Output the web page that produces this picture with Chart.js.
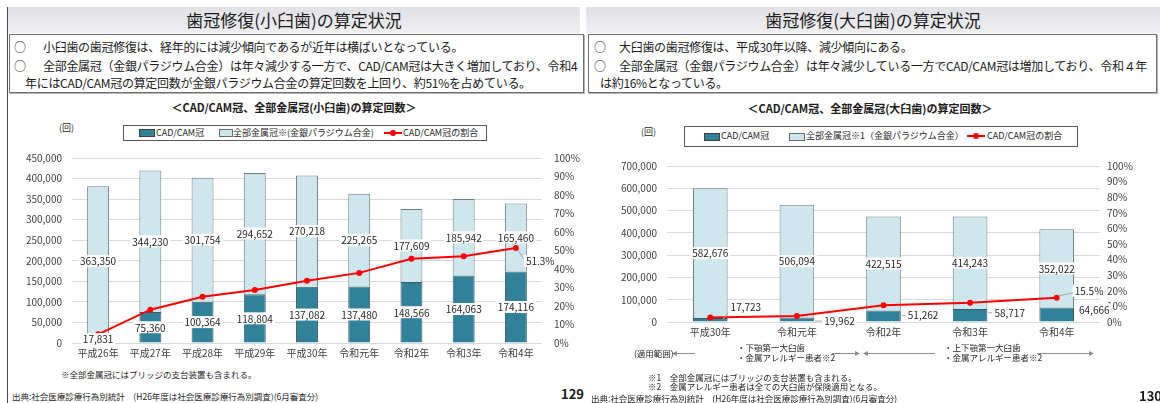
<!DOCTYPE html>
<html lang="ja">
<head>
<meta charset="UTF-8">
<title>歯冠修復の算定状況</title>
<script src="https://cdn.jsdelivr.net/npm/chart.js"></script>
<style>
  html, body { margin: 0; padding: 0; background: #fff; }
  body { width: 1160px; height: 403px; position: relative; overflow: hidden;
         font-family: "Noto Sans CJK JP", "Noto Sans", sans-serif; color: #1a1a1a; }
  .t { position: absolute; white-space: nowrap; }
  .band { position: absolute; top: 7px; height: 26px; line-height: 26px; text-align: center;
          font-size: 17px; background: linear-gradient(#e2e2e6, #efeff2); color: #1a1a1a; }
  .box { position: absolute; top: 34px; height: 57px; border: 1px solid #6f6f6f;
         box-shadow: 1px 1px 0 #b5b5b5; background: #fff; }
  .line { font-size: 12px; line-height: 14px; letter-spacing: -0.3px; }
  .ctitle { font-size: 11px; font-weight: bold; line-height: 14px; transform: translateX(-50%); }
  .legend { position: absolute; border: 1px solid #595959; background: #fff; }
  .lg { font-size: 9px; line-height: 12px; color: #262626; }
  .sw { position: absolute; height: 6px; border: 1px solid #404040; }
  .note { font-size: 8.5px; line-height: 11px; color: #262626; }
  .pg { font-size: 13px; font-weight: bold; line-height: 14px; color: #1a1a1a; }
  canvas { position: absolute; }
</style>
</head>
<body>

<!-- left slide -->
<div class="t" style="left:7px;top:7px;width:1px;height:396px;background:#4a4a4a;"></div>
<div class="band" style="left:8px;width:572px;">歯冠修復(小臼歯)の算定状況</div>
<div class="box" style="left:9px;width:573px;"></div>
<div class="t line" style="left:14px;top:40px;">○</div>
<div class="t line" style="left:43px;top:40px;">小臼歯の歯冠修復は、経年的には減少傾向であるが近年は横ばいとなっている。</div>
<div class="t line" style="left:14px;top:59px;">○</div>
<div class="t line" style="left:43px;top:59px;">全部金属冠（金銀パラジウム合金）は年々減少する一方で、CAD/CAM冠は大きく増加しており、令和4</div>
<div class="t line" style="left:25px;top:76px;">年にはCAD/CAM冠の算定回数が金銀パラジウム合金の算定回数を上回り、約51%を占めている。</div>
<div class="t ctitle" style="left:294px;top:100px;">＜CAD/CAM冠、全部金属冠(小臼歯)の算定回数＞</div>
<div class="t note" style="left:59px;top:122px;font-size:9px;">(回)</div>
<div class="legend" style="left:123px;top:125px;width:362px;height:14px;">
  <div class="sw" style="left:15px;top:3px;width:14px;background:#2f8299;"></div>
  <div class="t lg" style="left:32px;top:1px;">CAD/CAM冠</div>
  <div class="sw" style="left:95px;top:3px;width:12px;background:#cde6ee;border-color:#5f6f72;"></div>
  <div class="t lg" style="left:109px;top:1px;">全部金属冠※(金銀パラジウム合金)</div>
  <div class="t" style="left:260px;top:6px;width:18px;height:2px;background:#ff0000;"></div>
  <div class="t" style="left:266px;top:4px;width:6px;height:6px;border-radius:3px;background:#ff0000;"></div>
  <div class="t lg" style="left:279px;top:1px;">CAD/CAM冠の割合</div>
</div>
<canvas id="leftChart" width="580" height="225" style="left:0;top:140px;"></canvas>
<div class="t note" style="left:61px;top:369px;">※全部金属冠にはブリッジの支台装置も含まれる。</div>
<div class="t note" style="left:12px;top:391px;">出典:社会医療診療行為別統計　(H26年度は社会医療診療行為別調査)(6月審査分)</div>
<div class="t pg" style="left:561px;top:387px;">129</div>

<!-- right slide -->
<div class="band" style="left:586px;width:574px;">歯冠修復(大臼歯)の算定状況</div>
<div class="box" style="left:588px;width:567px;"></div>
<div class="t line" style="left:594px;top:40px;">○</div>
<div class="t line" style="left:619px;top:40px;">大臼歯の歯冠修復は、平成30年以降、減少傾向にある。</div>
<div class="t line" style="left:594px;top:59px;">○</div>
<div class="t line" style="left:619px;top:59px;">全部金属冠（金銀パラジウム合金）は年々減少している一方でCAD/CAM冠は増加しており、令和４年</div>
<div class="t line" style="left:600px;top:76px;">は約16%となっている。</div>
<div class="t ctitle" style="left:870px;top:101px;">＜CAD/CAM冠、全部金属冠(大臼歯)の算定回数＞</div>
<div class="t note" style="left:641px;top:126px;font-size:9px;">(回)</div>
<div class="legend" style="left:684px;top:126px;width:392px;height:19px;">
  <div class="sw" style="left:19px;top:6px;width:14px;background:#2f8299;"></div>
  <div class="t lg" style="left:36px;top:3px;">CAD/CAM冠</div>
  <div class="sw" style="left:104px;top:6px;width:14px;background:#cde6ee;border-color:#5f6f72;"></div>
  <div class="t lg" style="left:121px;top:3px;">全部金属冠※1（金銀パラジウム合金）</div>
  <div class="t" style="left:282px;top:8px;width:18px;height:2px;background:#ff0000;"></div>
  <div class="t" style="left:288px;top:6px;width:6px;height:6px;border-radius:3px;background:#ff0000;"></div>
  <div class="t lg" style="left:302px;top:3px;">CAD/CAM冠の割合</div>
</div>
<canvas id="rightChart" width="575" height="194" style="left:585px;top:150px;"></canvas>
<svg class="t" style="left:0;top:0;" width="1160" height="403">
  <g stroke="#8c8c8c" stroke-width="1" fill="#8c8c8c">
    <line x1="676" y1="353.5" x2="695" y2="353.5"/><path d="M672 353.5 l5 -2.5 v5 z" stroke="none"/>
    <line x1="832" y1="353.5" x2="856" y2="353.5"/><path d="M860 353.5 l-5 -2.5 v5 z" stroke="none"/>
    <line x1="867" y1="353.5" x2="935" y2="353.5"/><path d="M863 353.5 l5 -2.5 v5 z" stroke="none"/>
    <line x1="1037" y1="353.5" x2="1090" y2="353.5"/><path d="M1094 353.5 l-5 -2.5 v5 z" stroke="none"/>
  </g>
</svg>
<div class="t note" style="left:634px;top:348px;">(適用範囲)</div>
<div class="t note" style="left:737px;top:342px;">・下顎第一大臼歯</div>
<div class="t note" style="left:737px;top:352px;">・金属アレルギー患者※2</div>
<div class="t note" style="left:944px;top:342px;">・上下顎第一大臼歯</div>
<div class="t note" style="left:944px;top:352px;">・金属アレルギー患者※2</div>
<div class="t note" style="left:648px;top:372px;">※1　全部金属冠にはブリッジの支台装置も含まれる。</div>
<div class="t note" style="left:648px;top:381px;">※2　金属アレルギー患者は全ての大臼歯が保険適用となる。</div>
<div class="t note" style="left:591px;top:393px;">出典:社会医療診療行為別統計　(H26年度は社会医療診療行為別調査)(6月審査分)</div>
<div class="t pg" style="left:1139px;top:389px;">130</div>

<script>
  // 小臼歯
  const leftYears = ['平成26年', '平成27年', '平成28年', '平成29年', '平成30年', '令和元年', '令和2年', '令和3年', '令和4年'];
  const leftCadCam = [17831, 75360, 100364, 118804, 137082, 137480, 148566, 164063, 174116];
  const leftMetal = [363350, 344230, 301754, 294652, 270218, 225265, 177609, 185942, 165460];
  const leftRatio = [4.7, 18.0, 25.0, 28.7, 33.7, 37.9, 45.5, 46.9, 51.3];
  const leftCountMax = 450000, leftCountStep = 50000;

  // 大臼歯
  const rightYears = ['平成30年', '令和元年', '令和2年', '令和3年', '令和4年'];
  const rightCadCam = [17723, 19962, 51262, 58717, 64666];
  const rightMetal = [582676, 506094, 422515, 414243, 352022];
  const rightRatio = [2.9, 3.8, 10.8, 12.4, 15.5];
  const rightCountMax = 700000, rightCountStep = 100000;

  const ratioMax = 100, ratioStep = 10;

  Chart.defaults.font.family = '"Noto Sans CJK JP", "Noto Sans", sans-serif';
  Chart.defaults.font.size = 10;
  Chart.defaults.color = '#404040';

  function dotted(ctx) {
    const c = document.createElement('canvas');
    c.width = 4; c.height = 4;
    const g = c.getContext('2d');
    g.fillStyle = '#d1e8ef'; g.fillRect(0, 0, 4, 4);
    g.fillStyle = '#bcdce6'; g.fillRect(0, 0, 1, 1); g.fillRect(2, 2, 1, 1);
    return ctx.createPattern(c, 'repeat');
  }

  function labelBox(ctx, text, x, y, align) {
    const w = ctx.measureText(text).width;
    const left = align === 'left' ? x : x - w / 2;
    ctx.fillStyle = '#fff';
    ctx.fillRect(left - 2, y - 6, w + 4, 12);
    ctx.fillStyle = '#262626';
    ctx.textAlign = 'left';
    ctx.fillText(text, left, y + 0.5);
  }

  function leader(ctx, x1, y1, x2, y2) {
    ctx.strokeStyle = '#a6a6a6';
    ctx.lineWidth = 1;
    ctx.beginPath(); ctx.moveTo(x1, y1); ctx.lineTo(x2, y2); ctx.stroke();
  }

  // value labels in the middle of each stack segment, plus the last ratio
  const segmentLabels = {
    id: 'segmentLabels',
    afterDatasetsDraw(chart, args, opts) {
      const ctx = chart.ctx;
      ctx.save();
      ctx.font = '10px "Noto Sans CJK JP", "Noto Sans", sans-serif';
      ctx.textBaseline = 'middle';
      chart.data.datasets.forEach((ds, di) => {
        const meta = chart.getDatasetMeta(di);
        if (ds.type === 'line') {
          const r = opts.ratio;
          const pt = meta.data[r.index];
          const tx = pt.x + r.dx, ty = pt.y + r.dy;
          leader(ctx, pt.x + 2, pt.y + Math.sign(r.dy) * 2, tx - 2, ty - Math.sign(r.dy) * 2);
          labelBox(ctx, ds.data[r.index].toFixed(1) + '%', tx, ty, 'left');
          return;
        }
        const outside = opts.outside && opts.outside[di];
        meta.data.forEach((bar, i) => {
          const text = ds.data[i].toLocaleString('en-US');
          const cy = (bar.y + bar.base) / 2;
          if (outside) {
            const [dx, dy] = outside[i];
            const edge = bar.x + bar.width / 2;
            const lx = edge + dx, ly = cy + dy;
            if (dy < -6) leader(ctx, edge - 5, cy, lx - 1, ly + 4);
            else if (dx > 5) leader(ctx, edge + 1, ly + 0.5, lx - 2, ly + 0.5);
            labelBox(ctx, text, lx, ly, 'left');
          } else {
            labelBox(ctx, text, bar.x, cy, 'center');
          }
        });
      });
      ctx.restore();
    }
  };

  function buildChart(id, years, cad, metal, ratio, cfg) {
    const canvas = document.getElementById(id);
    const ctx = canvas.getContext('2d');
    return new Chart(canvas, {
      type: 'bar',
      data: {
        labels: years,
        datasets: [
          { type: 'line', label: 'CAD/CAM冠の割合', data: ratio, yAxisID: 'y2', order: 0,
            borderColor: '#ff0000', backgroundColor: '#ff0000', borderWidth: 2,
            pointRadius: 3, pointBorderWidth: 0, tension: 0 },
          { label: 'CAD/CAM冠', data: cad, order: 1, stack: 's',
            backgroundColor: '#2f8299', borderColor: '#3b5960', borderWidth: 1,
            barPercentage: cfg.barPct, categoryPercentage: 1 },
          { label: '全部金属冠', data: metal, order: 1, stack: 's',
            backgroundColor: dotted(ctx), borderColor: '#6d7f83', borderWidth: 1,
            barPercentage: cfg.barPct, categoryPercentage: 1 }
        ]
      },
      options: {
        responsive: false,
        animation: false,
        layout: { padding: { top: cfg.top, left: 0, right: 0, bottom: 0 } },
        plugins: {
          legend: { display: false },
          tooltip: { enabled: false },
          segmentLabels: { outside: cfg.outside, ratio: cfg.ratioLabel }
        },
        scales: {
          x: {
            stacked: true,
            grid: { display: false, drawTicks: false },
            border: { display: false },
            ticks: { padding: 4, color: '#404040' },
            afterFit: s => { s.height = 22; }
          },
          y: {
            stacked: true, min: 0, max: cfg.max,
            ticks: { stepSize: cfg.step, padding: 10, callback: v => v.toLocaleString('en-US') },
            grid: { color: '#d9d9d9', drawTicks: false },
            border: { display: false },
            afterFit: s => { s.width = cfg.leftW; }
          },
          y2: {
            position: 'right', min: 0, max: ratioMax,
            ticks: { stepSize: ratioStep, padding: cfg.rightPad, callback: v => v + '%' },
            grid: { display: false, drawTicks: false },
            border: { display: false },
            afterFit: s => { s.width = cfg.rightW; }
          }
        }
      },
      plugins: [segmentLabels]
    });
  }

  buildChart('leftChart', leftYears, leftCadCam, leftMetal, leftRatio, {
    max: leftCountMax, step: leftCountStep, barPct: 0.42, top: 9,
    leftW: 72, rightW: 38, rightPad: 12,
    outside: null,
    ratioLabel: { index: leftRatio.length - 1, dx: 10, dy: 13 }
  });

  buildChart('rightChart', rightYears, rightCadCam, rightMetal, rightRatio, {
    max: rightCountMax, step: rightCountStep, barPct: 0.40, top: 10,
    leftW: 82, rightW: 60, rightPad: 7,
    outside: { 1: [[3, -13], [10, 1], [7, -1], [7, -3], [5, -5]] },
    ratioLabel: { index: rightRatio.length - 1, dx: 18, dy: -7 }
  });
</script>
</body>
</html>
